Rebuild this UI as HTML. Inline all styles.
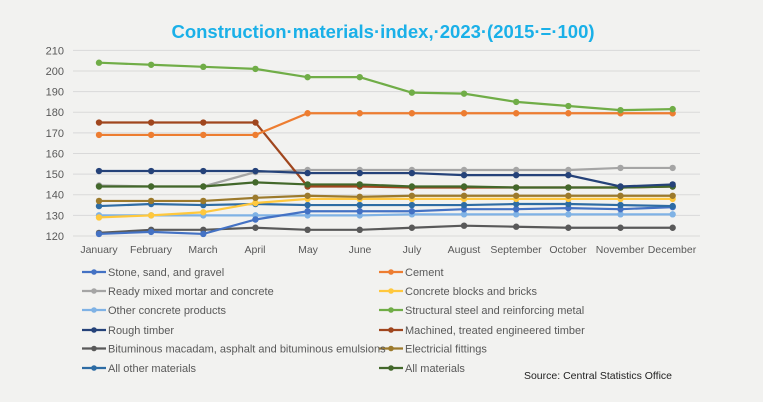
<!DOCTYPE html>
<html><head><meta charset="utf-8"><style>
body{margin:0;background:#fff}
svg{display:block;font-family:"Liberation Sans",sans-serif}
</style></head><body>
<svg id="s" width="768" height="402" viewBox="0 0 768 402">
<rect x="0" y="0" width="763" height="402" fill="#f2f2f0"/>
<text x="383" y="38" text-anchor="middle" font-size="18.5" font-weight="bold" fill="#1ab0e8">Construction·materials·index,·2023·(2015·=·100)</text>
<g id="grid" stroke="#d9d9d9" stroke-width="1"></g>
<g id="ylab" font-size="11" fill="#595959" text-anchor="end"></g>
<g id="xlab" font-size="10.5" fill="#595959" text-anchor="middle">
<text x="99" y="253">January</text><text x="151" y="253">February</text><text x="203" y="253">March</text><text x="255" y="253">April</text><text x="308" y="253">May</text><text x="360" y="253">June</text><text x="412" y="253">July</text><text x="464" y="253">August</text><text x="516" y="253">September</text><text x="568" y="253">October</text><text x="620" y="253">November</text><text x="672" y="253">December</text>
</g>
<g id="series"></g>
<g id="leg" font-size="11" fill="#595959">
<text x="108" y="276">Stone, sand, and gravel</text>
<text x="108" y="295">Ready mixed mortar and concrete</text>
<text x="108" y="314">Other concrete products</text>
<text x="108" y="334">Rough timber</text>
<text x="108" y="352.5">Bituminous macadam, asphalt and bituminous emulsions</text>
<text x="108" y="372">All other materials</text>
<text x="405" y="276">Cement</text>
<text x="405" y="295">Concrete blocks and bricks</text>
<text x="405" y="314">Structural steel and reinforcing metal</text>
<text x="405" y="334">Machined, treated engineered timber</text>
<text x="405" y="352.5">Electricial fittings</text>
<text x="405" y="372">All materials</text>
</g>
<text x="672" y="379" text-anchor="end" font-size="10.5" fill="#222">Source: Central Statistics Office</text>
</svg>
<script>
var NS="http://www.w3.org/2000/svg";
function el(t,a,p){var e=document.createElementNS(NS,t);for(var k in a)e.setAttribute(k,a[k]);p.appendChild(e);return e;}
function Y(v){return 236-(v-120)*2.063;}
function X(i){return 99+i*52.15;}
var g=document.getElementById('grid'),yl=document.getElementById('ylab');
for(var v=120;v<=210;v+=10){el('line',{x1:73,x2:700,y1:Y(v),y2:Y(v)},g);var t=el('text',{x:64,y:Y(v)+4},yl);t.textContent=v;}
var S=[
["#595959",[121.5,123,123,124,123,123,124,125,124.5,124,124,124],4,0],
["#7fb2e5",[130,130,130,130,130,130,130.5,130.5,130.5,130.5,130.5,130.5],2,0],
["#4472c4",[121,122,121,128,132,132,132,133,133,133.5,133,134],0,0],
["#2e6ca4",[134.5,135.5,135,135.5,135,135,135,135,135.5,135.5,135,134.5],5,0],
["#ffc83d",[129,130,131.5,136,138,138,138,138,138,138,138,138],1,1],
["#9c7a2c",[137,137,137,138.5,139.5,139,139.5,139.5,139.5,139.5,139.5,139.5],4,1],
["#a5a5a5",[144.5,144,144,151,152,152,152,152,152,152,153,153],1,0],
["#a0461e",[175,175,175,175,144,144,143.5,143.5,143.5,143.5,143.5,144],3,1],
["#43682b",[144,144,144,146,145,145,144,144,143.5,143.5,143.5,144],5,1],
["#254279",[151.5,151.5,151.5,151.5,150.5,150.5,150.5,149.5,149.5,149.5,144,145],3,0],
["#ed7d31",[169,169,169,169,179.5,179.5,179.5,179.5,179.5,179.5,179.5,179.5],0,1],
["#70ad47",[204,203,202,201,197,197,189.5,189,185,183,181,181.5],2,1]
];
var sg=document.getElementById('series');
var rows=[272,291,310,330,348.5,368];
S.forEach(function(s){
 var pts=s[1].map(function(v,i){return X(i)+','+Y(v)}).join(' ');
 el('polyline',{points:pts,fill:'none',stroke:s[0],'stroke-width':2.2},sg);
 s[1].forEach(function(v,i){el('circle',{cx:X(i),cy:Y(v),r:3.2,fill:s[0]},sg);});
 var lx=s[3]?379:82,ly=rows[s[2]];
 el('line',{x1:lx,x2:lx+24,y1:ly,y2:ly,stroke:s[0],'stroke-width':2.2},sg);
 el('circle',{cx:lx+12,cy:ly,r:2.8,fill:s[0]},sg);
});
</script>
</body></html>
